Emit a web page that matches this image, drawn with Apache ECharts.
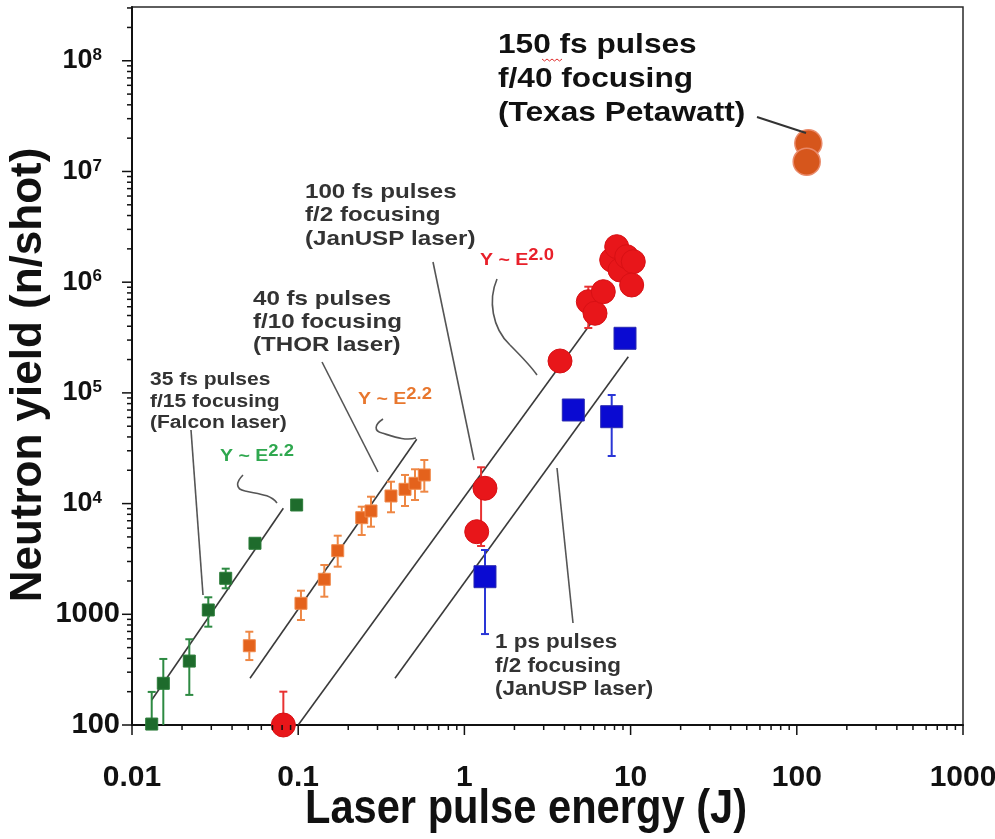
<!DOCTYPE html>
<html>
<head>
<meta charset="utf-8">
<script src="https://cdn.jsdelivr.net/npm/echarts@6/dist/echarts.min.js"></script>
<style>
  html, body { margin: 0; padding: 0; background: #ffffff; }
  #chart { width: 995px; height: 839px; }
</style>
</head>
<body>
<div id="chart"></div>
<script>
// Neutron yield per shot against laser pulse energy, log-log

// Axis ticks and labels
const xTickValues = [0.01, 0.1, 1, 10, 100, 1000];
const xTickLabels = ['0.01', '0.1', '1', '10', '100', '1000'];
const yTickValues = [100, 1000, 1e4, 1e5, 1e6, 1e7, 1e8];
const yTickLabels = ['100', '1000', '10^4', '10^5', '10^6', '10^7', '10^8'];
const minorMantissas = [2, 3, 4, 5, 6, 7, 8, 9];
const yAxisMax = 3.06e8;

// Falcon laser: 35 fs pulses, f/15 focusing  [energy J, yield]
const falconPoints = [
  [0.01314, 102], [0.01543, 238], [0.02212, 378], [0.02878, 1094],
  [0.03663, 2115], [0.05495, 4380], [0.0979, 9712]
];
// [energy J, low, high]
const falconErrors = [
  [0.01314, 100, 199], [0.01543, 100, 395], [0.02212, 187, 595],
  [0.02878, 773, 1424], [0.03663, 1718, 2582]
];
const falconFit = [[0.01314, 168], [0.0814, 9070]];

// THOR laser: 40 fs pulses, f/10 focusing
const thorPoints = [
  [0.0508, 520], [0.1039, 1257], [0.1436, 2071], [0.1729, 3754], [0.2411, 7458],
  [0.2742, 8576], [0.3617, 11714], [0.4392, 13460], [0.5044, 15250], [0.5738, 18140]
];
const thorErrors = [
  [0.0508, 386, 696], [0.1039, 888, 1634], [0.1436, 1442, 2789], [0.1729, 2692, 5129],
  [0.2411, 5205, 9376], [0.2742, 6184, 11540], [0.3617, 8346, 15770],
  [0.4392, 9513, 18140], [0.5044, 10780, 20410], [0.5738, 12810, 24770]
];
const thorFit = [[0.0513, 264], [0.5164, 38100]];

// JanUSP laser: 100 fs pulses, f/2 focusing
const janFsPoints = [
  [0.0814, 100], [1.186, 5573], [1.33, 13750], [3.761, 194200],
  [5.566, 666400], [6.107, 523800], [6.849, 820900], [7.696, 1587000],
  [8.247, 2093000], [8.635, 1289000], [9.474, 1700000], [10.38, 1532000], [10.15, 943000]
];
const janFsErrors = [
  [0.0814, 100, 200], [1.26, 4140, 21280], [5.566, 385800, 910500]
];
const janFsFit = [[0.1, 100], [5.965, 455500]];

// JanUSP laser: 1 ps pulses, f/2 focusing
const janPsPoints = [[1.33, 2186], [4.52, 70050], [7.696, 60950], [9.254, 311300]];
const janPsErrors = [[1.33, 663, 3809], [7.696, 26900, 95700]];
const janPsFit = [[0.3823, 264], [9.688, 212300]];

// Texas Petawatt: 150 fs pulses, f/40 focusing
const texasPoints = [[117.3, 17970000], [114.7, 12260000]];

const FONT = '"Liberation Sans", Arial, Helvetica, sans-serif';

const chart = echarts.init(document.getElementById('chart'), null, { renderer: 'canvas' });

function isDecade(v) {
  const l = Math.log10(v);
  return Math.abs(l - Math.round(l)) < 1e-6;
}

function errorBarSeries(data, color, cap) {
  return {
    type: 'custom',
    data: data,
    clip: false,
    silent: true,
    z: 3,
    encode: { x: 0, y: [1, 2] },
    renderItem: function (params, api) {
      const e = api.value(0);
      const lo = api.coord([e, api.value(1)]);
      const hi = api.coord([e, api.value(2)]);
      const st = { stroke: color, lineWidth: 2 };
      const kids = [
        { type: 'line', shape: { x1: lo[0], y1: lo[1], x2: hi[0], y2: hi[1] }, style: st },
        { type: 'line', shape: { x1: hi[0] - cap, y1: hi[1], x2: hi[0] + cap, y2: hi[1] }, style: st }
      ];
      if (api.value(1) > yTickValues[0]) {
        kids.push({ type: 'line', shape: { x1: lo[0] - cap, y1: lo[1], x2: lo[0] + cap, y2: lo[1] }, style: st });
      }
      return { type: 'group', children: kids };
    }
  };
}

function tickSeries(data, dir, len) {
  return {
    type: 'custom',
    data: data,
    clip: false,
    silent: true,
    z: 6,
    renderItem: function (params, api) {
      const p = api.coord([api.value(0), api.value(1)]);
      const shape = dir === 'y'
        ? { x1: p[0] - len, y1: p[1], x2: p[0], y2: p[1] }
        : { x1: p[0], y1: p[1], x2: p[0], y2: p[1] + len };
      return { type: 'line', shape: shape, style: { stroke: '#111', lineWidth: 1.5 } };
    }
  };
}

function fitLine(data) {
  return {
    type: 'line', data: data, symbol: 'none', silent: true, z: 2,
    lineStyle: { color: '#3a3a3a', width: 1.6 }
  };
}

function curve(x1, y1, cx1, cy1, cx2, cy2, x2, y2) {
  return {
    type: 'bezierCurve', z: 9,
    shape: { x1: x1, y1: y1, cpx1: cx1, cpy1: cy1, cpx2: cx2, cpy2: cy2, x2: x2, y2: y2 },
    style: { stroke: '#555', lineWidth: 1.6, fill: null }
  };
}

const yMinor = [];
for (let k = 0; k < yTickValues.length; k++) {
  minorMantissas.forEach(m => { const v = m * yTickValues[k]; if (v < yAxisMax) yMinor.push([xTickValues[0], v]); });
}
const xMinor = [];
for (let k = 0; k < xTickValues.length - 1; k++) {
  minorMantissas.forEach(m => xMinor.push([m * xTickValues[k], yTickValues[0]]));
}

const option = {
  backgroundColor: '#ffffff',
  animation: false,
  grid: {
    left: 132, right: 32, top: 7, bottom: 114,
    show: true, borderColor: '#2a2a2a', borderWidth: 1.5,
    containLabel: false, outerBoundsMode: 'none'
  },
  xAxis: {
    type: 'log', logBase: 10,
    min: xTickValues[0], max: xTickValues[xTickValues.length - 1],
    splitNumber: 5,
    axisLine: { lineStyle: { color: '#111', width: 2 } },
    axisTick: { show: false },
    splitLine: { show: false },
    axisLabel: {
      margin: 38, fontSize: 30, fontWeight: 'bold', color: '#111', fontFamily: FONT,
      formatter: function (v) {
        if (!isDecade(v)) return '';
        const i = xTickValues.findIndex(t => Math.abs(Math.log10(t) - Math.log10(v)) < 1e-6);
        return i >= 0 ? xTickLabels[i] : '';
      }
    }
  },
  yAxis: {
    type: 'log', logBase: 10,
    min: yTickValues[0], max: yAxisMax,
    splitNumber: 6,
    axisLine: { lineStyle: { color: '#111', width: 2 } },
    axisTick: { show: false },
    splitLine: { show: false },
    axisLabel: {
      margin: 12, color: '#111', fontFamily: FONT, fontWeight: 'bold',
      formatter: function (v) {
        if (!isDecade(v)) return '';
        const i = yTickValues.findIndex(t => Math.abs(Math.log10(t) - Math.log10(v)) < 1e-6);
        if (i < 0) return '';
        const lab = yTickLabels[i];
        if (lab.indexOf('^') >= 0) {
          const parts = lab.split('^');
          return '{b|' + parts[0] + '}{s|' + parts[1] + '}';
        }
        return '{n|' + lab + '}';
      },
      rich: {
        n: { fontSize: 29, fontWeight: 'bold', fontFamily: FONT, color: '#111' },
        b: { fontSize: 27, fontWeight: 'bold', fontFamily: FONT, color: '#111', lineHeight: 28 },
        s: { fontSize: 17, fontWeight: 'bold', fontFamily: FONT, color: '#111', verticalAlign: 'top', lineHeight: 17, padding: [0, 18, 0, 0] }
      }
    }
  },
  series: [
    fitLine(falconFit),
    fitLine(thorFit),
    fitLine(janFsFit),
    fitLine(janPsFit),
    errorBarSeries(falconErrors, '#2d8a42', 4),
    errorBarSeries(thorErrors, '#ee8744', 4),
    errorBarSeries(janFsErrors, '#e83232', 4),
    errorBarSeries(janPsErrors, '#2a36d6', 4),
    {
      type: 'scatter', data: falconPoints, symbol: 'rect', symbolSize: 12, clip: false, z: 4,
      itemStyle: { color: '#1e6b2c', borderColor: '#2c7d3a', borderWidth: 1, opacity: 1 }
    },
    {
      type: 'scatter', data: thorPoints, symbol: 'rect', symbolSize: 12, clip: false, z: 4,
      itemStyle: { color: '#e4621c', borderColor: '#f08a4c', borderWidth: 1, opacity: 1 }
    },
    {
      type: 'scatter', data: janFsPoints, symbol: 'circle', symbolSize: 24, clip: false, z: 4,
      itemStyle: { color: '#e8161a', borderColor: '#d81014', borderWidth: 1, opacity: 1 }
    },
    {
      type: 'scatter', data: janPsPoints, symbol: 'rect', symbolSize: 22, clip: false, z: 4,
      itemStyle: { color: '#0a0ad2', borderColor: '#2a2ab0', borderWidth: 1, opacity: 1 }
    },
    {
      type: 'scatter', data: texasPoints, symbol: 'circle', symbolSize: 27, clip: false, z: 4,
      itemStyle: { color: '#d6561c', borderColor: '#e98a6a', borderWidth: 1.5, opacity: 1 }
    },
    tickSeries(yTickValues.map(v => [xTickValues[0], v]), 'y', 10),
    tickSeries(yMinor, 'y', 5),
    tickSeries(xTickValues.map(v => [v, yTickValues[0]]), 'x', 10),
    tickSeries(xMinor, 'x', 5)
  ],
  graphic: [
    // axis titles
    {
      type: 'text', x: 526, y: 809, scaleX: 0.85, z: 10,
      style: { text: 'Laser pulse energy (J)', font: 'bold 49px ' + FONT, fill: '#111', align: 'center', verticalAlign: 'middle' }
    },
    {
      type: 'text', x: 29, y: 375, rotation: Math.PI / 2, z: 10,
      style: { text: 'Neutron yield (n/shot)', font: 'bold 44px ' + FONT, fill: '#111', align: 'center', verticalAlign: 'middle' }
    },
    // laser labels
    {
      type: 'text', x: 498, y: 28, scaleX: 1.15, z: 10,
      style: { text: '150 fs pulses\nf/40 focusing\n(Texas Petawatt)', font: 'bold 27.5px ' + FONT, lineHeight: 34, fill: '#111', verticalAlign: 'top' }
    },
    {
      type: 'polyline', z: 10,
      shape: { points: [[542, 59], [544.5, 61], [547, 59], [549.5, 61], [552, 59], [554.5, 61], [557, 59], [559.5, 61], [562, 59]] },
      style: { stroke: '#e03030', lineWidth: 1, fill: null }
    },
    {
      type: 'text', x: 305, y: 180, scaleX: 1.15, z: 10,
      style: { text: '100 fs pulses\nf/2 focusing\n(JanUSP laser)', font: 'bold 21px ' + FONT, lineHeight: 23.5, fill: '#333', verticalAlign: 'top' }
    },
    {
      type: 'text', x: 253, y: 288, scaleX: 1.15, z: 10,
      style: { text: '40 fs pulses\nf/10 focusing\n(THOR laser)', font: 'bold 21px ' + FONT, lineHeight: 23, fill: '#333', verticalAlign: 'top' }
    },
    {
      type: 'text', x: 150, y: 369, scaleX: 1.15, z: 10,
      style: { text: '35 fs pulses\nf/15 focusing\n(Falcon laser)', font: 'bold 18.3px ' + FONT, lineHeight: 21.7, fill: '#333', verticalAlign: 'top' }
    },
    {
      type: 'text', x: 495, y: 631, scaleX: 1.15, z: 10,
      style: { text: '1 ps pulses\nf/2 focusing\n(JanUSP laser)', font: 'bold 19.5px ' + FONT, lineHeight: 23.5, fill: '#333', verticalAlign: 'top' }
    },
    // scaling law labels
    {
      type: 'text', x: 220, y: 443.5, scaleX: 1.15, z: 10,
      style: {
        text: '{b|Y ~ E}{s|2.2}', verticalAlign: 'top',
        rich: {
          b: { font: 'bold 17px ' + FONT, fill: '#2fa84f', lineHeight: 21, verticalAlign: 'bottom' },
          s: { font: 'bold 16px ' + FONT, fill: '#2fa84f', lineHeight: 16, verticalAlign: 'top' }
        }
      }
    },
    {
      type: 'text', x: 358, y: 386.5, scaleX: 1.15, z: 10,
      style: {
        text: '{b|Y ~ E}{s|2.2}', verticalAlign: 'top',
        rich: {
          b: { font: 'bold 17px ' + FONT, fill: '#e8772e', lineHeight: 21, verticalAlign: 'bottom' },
          s: { font: 'bold 16px ' + FONT, fill: '#e8772e', lineHeight: 16, verticalAlign: 'top' }
        }
      }
    },
    {
      type: 'text', x: 480, y: 248, scaleX: 1.15, z: 10,
      style: {
        text: '{b|Y ~ E}{s|2.0}', verticalAlign: 'top',
        rich: {
          b: { font: 'bold 17px ' + FONT, fill: '#e8202a', lineHeight: 21, verticalAlign: 'bottom' },
          s: { font: 'bold 16px ' + FONT, fill: '#e8202a', lineHeight: 16, verticalAlign: 'top' }
        }
      }
    },
    // leader lines
    { type: 'line', z: 9, shape: { x1: 757, y1: 117, x2: 806, y2: 133 }, style: { stroke: '#333', lineWidth: 2 } },
    { type: 'line', z: 9, shape: { x1: 433, y1: 262, x2: 474, y2: 460 }, style: { stroke: '#555', lineWidth: 1.6 } },
    { type: 'line', z: 9, shape: { x1: 322, y1: 362, x2: 378, y2: 472 }, style: { stroke: '#555', lineWidth: 1.6 } },
    { type: 'line', z: 9, shape: { x1: 191, y1: 430, x2: 203, y2: 595 }, style: { stroke: '#555', lineWidth: 1.6 } },
    { type: 'line', z: 9, shape: { x1: 557, y1: 468, x2: 573, y2: 623 }, style: { stroke: '#555', lineWidth: 1.6 } },
    // braces pointing at the fits
    curve(243, 475, 236, 482, 235, 489, 245, 491),
    curve(245, 491, 258, 494, 270, 494, 277, 503),
    curve(383, 419, 374, 425, 374, 431, 382, 433),
    curve(382, 433, 395, 437, 405, 441, 416, 438),
    curve(497, 279, 488, 300, 492, 328, 510, 345),
    curve(510, 345, 520, 355, 530, 365, 537, 375)
  ]
};

chart.setOption(option);
</script>
</body>
</html>
